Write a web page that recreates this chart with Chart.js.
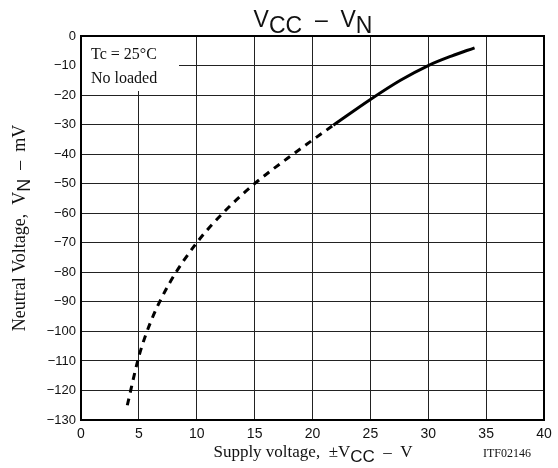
<!DOCTYPE html>
<html>
<head>
<meta charset="utf-8">
<script src="https://cdn.jsdelivr.net/npm/chart.js@4.4.0/dist/chart.umd.min.js"></script>
<style>
  html, body { margin: 0; padding: 0; background: #fff; }
  #wrap { width: 558px; height: 468px; }
</style>
</head>
<body>
<div id="wrap"><canvas id="grafica"></canvas></div>
<script>
// tramo punteado (bajo voltaje)
const vccPunteado = [4, 5, 6, 7.6, 10, 12.5, 15, 18.5, 21.8];
const vnPunteado = [-125, -108.5, -97, -84, -70, -59, -50, -39.5, -30.2];

// tramo continuo
const vccContinuo = [21.8, 25, 27.6, 30, 32, 34];
const vnContinuo = [-30.2, -21.5, -15, -10, -6.8, -4];

const ticksX = [0, 5, 10, 15, 20, 25, 30, 35, 40];
const ticksY = [0, -10, -20, -30, -40, -50, -60, -70, -80, -90, -100, -110, -120, -130];

const SERIF = '"Liberation Serif", "Times New Roman", serif';
const SANS = '"Liberation Sans", Arial, sans-serif';

function puntos(xs, ys) {
    return xs.map((x, i) => ({ x: x, y: ys[i] }));
}

// dibuja texto por segmentos (para subindices)
function textoSegmentos(ctx, segs, x, y, align) {
    let total = 0;
    segs.forEach(s => { ctx.font = s.font; total += ctx.measureText(s.t).width; });
    let cx = align === 'center' ? x - total / 2 : (align === 'right' ? x - total : x);
    ctx.textAlign = 'left';
    ctx.textBaseline = 'alphabetic';
    segs.forEach(s => {
        ctx.font = s.font;
        ctx.fillText(s.t, cx, y + (s.dy || 0));
        cx += ctx.measureText(s.t).width;
    });
}

const decoracion = {
    id: 'decoracion',
    beforeDatasetsDraw(chart) {
        const ctx = chart.ctx;
        const a = chart.chartArea;
        ctx.save();
        // recuadro de condiciones
        ctx.fillStyle = '#fff';
        ctx.fillRect(a.left + 1, a.top + 1, 97, 54);
        ctx.fillStyle = '#111';
        ctx.font = '16px ' + SERIF;
        ctx.textAlign = 'left';
        ctx.textBaseline = 'alphabetic';
        ctx.fillText('Tc = 25°C', a.left + 10, a.top + 23);
        ctx.fillText('No loaded', a.left + 10, a.top + 47);
        ctx.restore();
    },
    afterDraw(chart) {
        const ctx = chart.ctx;
        const a = chart.chartArea;
        ctx.save();
        // marco
        ctx.strokeStyle = '#000';
        ctx.lineWidth = 2;
        ctx.strokeRect(a.left, a.top, a.right - a.left, a.bottom - a.top);

        ctx.fillStyle = '#111';
        // titulo
        const big = '23px ' + SANS;
        textoSegmentos(ctx, [
            { t: 'V', font: big },
            { t: 'CC', font: big, dy: 6 },
            { t: '  –  ', font: big },
            { t: 'V', font: big },
            { t: 'N', font: big, dy: 6 }
        ], 313, 27, 'center');

        // titulo eje x
        const f16 = '17px ' + SERIF;
        textoSegmentos(ctx, [
            { t: 'Supply voltage,  ±V', font: f16 },
            { t: 'CC', font: '17px ' + SANS, dy: 5 },
            { t: '  –  V', font: f16 }
        ], 313, 457, 'center');

        ctx.font = '12px ' + SERIF;
        ctx.textAlign = 'right';
        ctx.fillText('ITF02146', 531, 457);

        // titulo eje y
        ctx.translate(25, (a.top + a.bottom) / 2);
        ctx.rotate(-Math.PI / 2);
        textoSegmentos(ctx, [
            { t: 'Neutral Voltage,  V', font: '18px ' + SERIF },
            { t: 'N', font: '18px ' + SANS, dy: 5 },
            { t: '  –  mV', font: '18px ' + SERIF }
        ], 0, 0, 'center');
        ctx.restore();
    }
};

const ctx = document.getElementById('grafica').getContext('2d');
new Chart(ctx, {
    type: 'scatter',
    data: {
        datasets: [
            {
                data: puntos(vccPunteado, vnPunteado),
                showLine: true,
                borderColor: '#000',
                borderWidth: 3,
                borderDash: [7, 6],
                pointRadius: 0,
                cubicInterpolationMode: 'monotone'
            },
            {
                data: puntos(vccContinuo, vnContinuo),
                showLine: true,
                borderColor: '#000',
                borderWidth: 3,
                pointRadius: 0,
                cubicInterpolationMode: 'monotone'
            }
        ]
    },
    options: {
        responsive: true,
        maintainAspectRatio: false,
        animation: false,
        layout: { padding: { top: 36, right: 14, left: 0, bottom: 0 } },
        plugins: { legend: { display: false }, tooltip: { enabled: false } },
        scales: {
            x: {
                type: 'linear',
                min: 0, max: 40,
                afterBuildTicks: s => { s.ticks = ticksX.map(v => ({ value: v })); },
                afterFit: s => { s.height = 48; },
                grid: { color: '#222', lineWidth: 1, drawTicks: false },
                border: { display: false },
                ticks: {
                    color: '#111',
                    padding: 6,
                    font: { family: SANS, size: 14 }
                }
            },
            y: {
                type: 'linear',
                min: -130, max: 0,
                afterBuildTicks: s => { s.ticks = ticksY.map(v => ({ value: v })); },
                afterFit: s => { s.width = 81; },
                grid: { color: '#222', lineWidth: 1, drawTicks: false },
                border: { display: false },
                ticks: {
                    color: '#111',
                    padding: 5,
                    font: { family: SANS, size: 13 },
                    callback: v => String(v).replace('-', '−')
                }
            }
        }
    },
    plugins: [decoracion]
});
</script>
</body>
</html>
